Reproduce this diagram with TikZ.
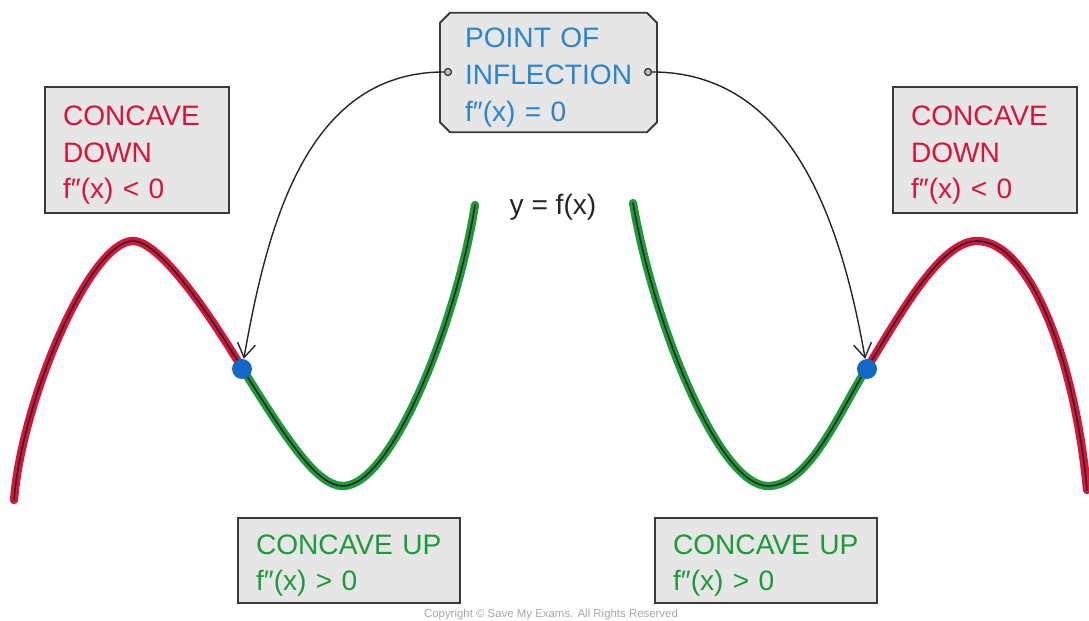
\documentclass[tikz,border=0pt]{standalone}
\usepackage{fontspec}
\setmainfont{Liberation Sans}
\usepackage{xcolor}
\usepackage{tikz}
\usetikzlibrary{positioning, arrows.meta, calc, shapes.misc}
\definecolor{concred}{HTML}{D7153A}
\definecolor{concgreen}{HTML}{1F9A3B}
\definecolor{inflblue}{HTML}{2C85C9}
\definecolor{dotblue}{HTML}{1268C4}
\definecolor{boxgrey}{HTML}{E6E6E6}
\definecolor{boxline}{HTML}{3A3A3A}

\tikzset{
  notebox/.style={fill=boxgrey, draw=boxline, line width=1.1pt, inner xsep=0.36cm,
    inner ysep=0pt, align=left, font=\fontsize{16}{21}\selectfont,
    execute at begin node=\rule{0pt}{17pt}},
  downcurve/.style={draw=concred, line width=1.9pt, double=black!85, double distance=0.9pt, line cap=round},
  upcurve/.style={draw=concgreen, line width=1.9pt, double=black!85, double distance=0.9pt, line cap=round},
  inflpoint/.style={circle, fill=dotblue, inner sep=0pt, minimum size=0.4cm},
  pindot/.style={circle, draw=black!80, fill=black!25, line width=0.7pt, inner sep=0pt, minimum size=0.14cm},
  pointer/.style={draw=black!85, line width=0.8pt, -{Straight Barb[length=2.8mm, width=3.6mm]}}
}

\begin{document}
\begin{tikzpicture}[x=0.02cm, y=-0.02cm]
    \useasboundingbox (0,0) rectangle (1089,621);

    % curves
    \draw[downcurve] (14,500) .. controls (22,400) and (90,241) .. (133,241)
                     .. controls (160,241) and (210,315) .. (242,368);
    \draw[upcurve] (242,368) .. controls (290,445) and (318,486) .. (343,486)
                   .. controls (390,486) and (455,330) .. (475,205);
    \draw[upcurve] (633,203) .. controls (655,330) and (720,486) .. (768,486)
                   .. controls (810,486) and (840,410) .. (867,368);
    \draw[downcurve] (867,368) .. controls (900,315) and (940,241) .. (977,241)
                     .. controls (1030,241) and (1075,360) .. (1087,490);

    \node[inflpoint] (inflL) at (242,369) {};
    \node[inflpoint] (inflR) at (867,369) {};

    \node[text=black!85, font=\fontsize{16}{21}\selectfont] (curvelabel) at (553,207) {y = f(x)};

    % boxes
    \node[notebox, chamfered rectangle, chamfered rectangle xsep=0.1cm, chamfered rectangle ysep=0.1cm,
          text=inflblue, inner xsep=0.4cm, text width=3.34cm, minimum height=2.3cm]
          (inflbox) at (548.5,72.5) {POINT OF\\INFLECTION\\f″(x) = 0};
    \node[notebox, text=concred, text width=2.96cm, minimum height=2.52cm] (downL) at (137,150)
          {CONCAVE\\DOWN\\f″(x) < 0};
    \node[notebox, text=concred, text width=2.96cm, minimum height=2.52cm] (downR) at (985,150)
          {CONCAVE\\DOWN\\f″(x) < 0};
    \node[notebox, text=concgreen, text width=3.72cm, minimum height=1.7cm] (upL) at (349,560.5)
          {CONCAVE UP\\f″(x) > 0};
    \node[notebox, text=concgreen, text width=3.72cm, minimum height=1.7cm] (upR) at (766,560.5)
          {CONCAVE UP\\f″(x) > 0};

    % pointers to the inflection points
    \node[pindot] (pinL) at (448,72) {};
    \node[pindot] (pinR) at (648,72) {};
    \draw[pointer] (pinL) to[out=180, in=80] (inflL);
    \draw[pointer] (pinR) to[out=0, in=100] (inflR);

    \node[text=black!35, font=\fontsize{6.5}{8}\selectfont] (copyright) at (551,615)
          {Copyright © Save My Exams. All Rights Reserved};
\end{tikzpicture}
\end{document}
